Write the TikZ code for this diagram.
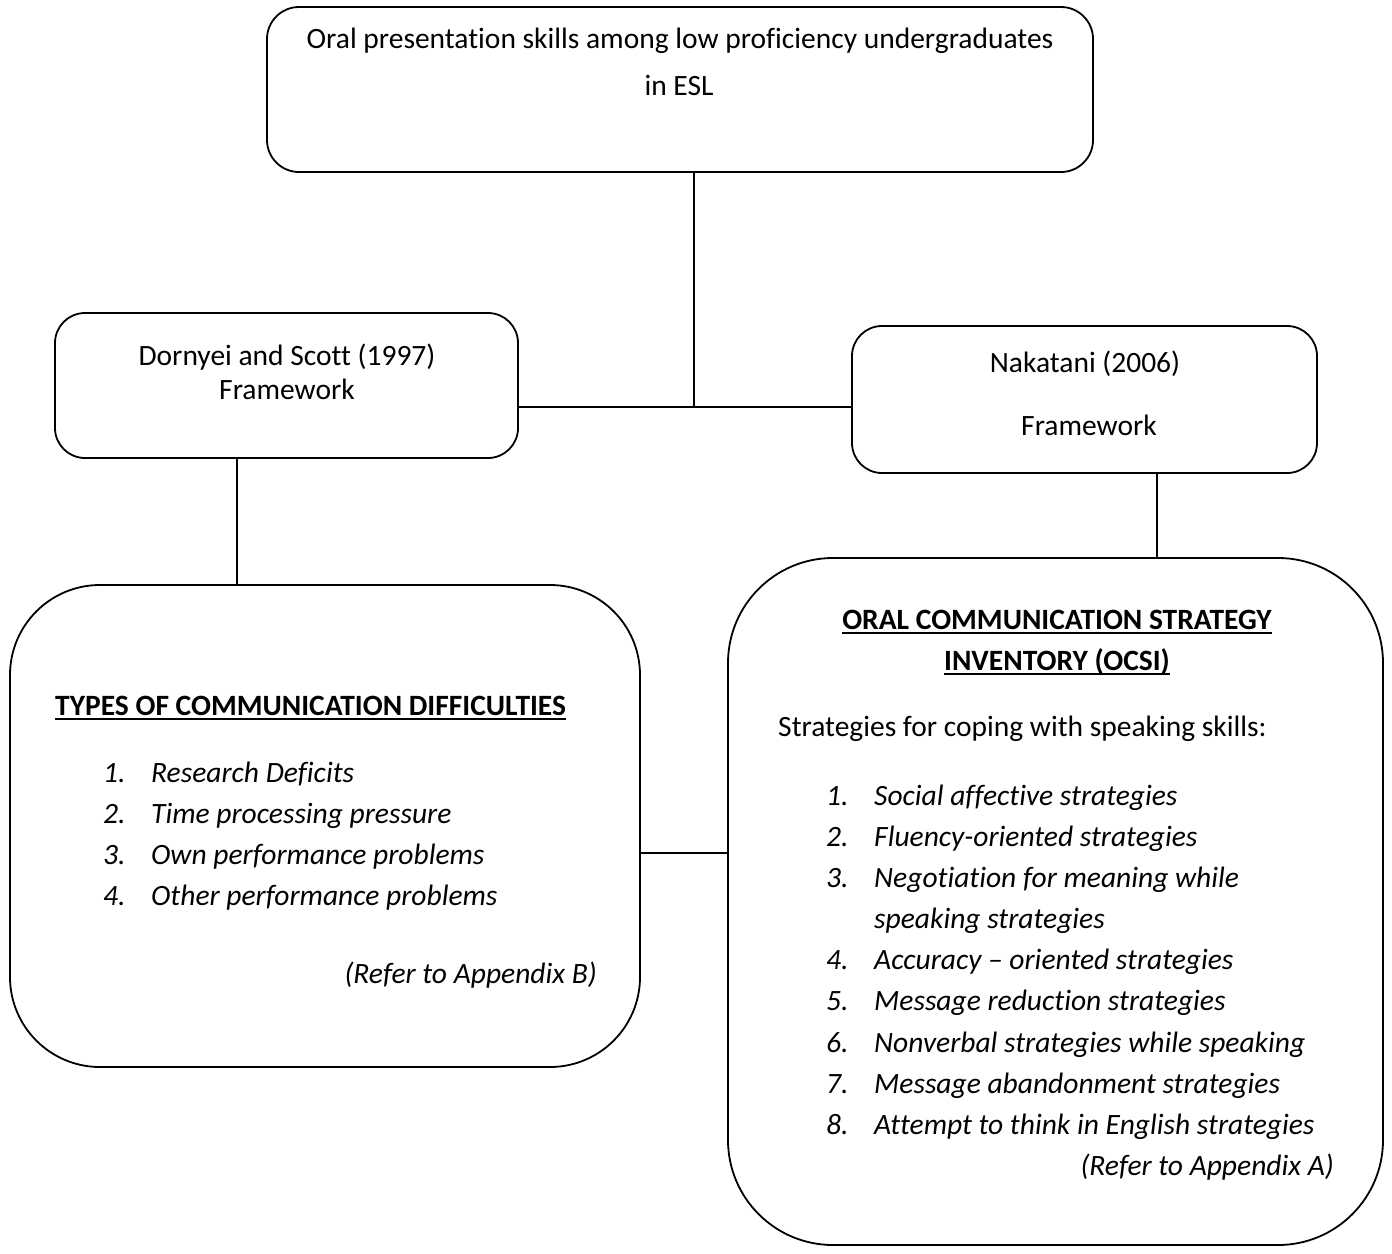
\documentclass[tikz,border=0pt]{standalone}
\usepackage{fontspec}
\setmainfont{Carlito}[Ligatures=NoCommon]
\newcommand\ulbox[1]{\setbox0\hbox{#1}\rlap{\copy0}\rule[-4.5pt]{\wd0}{1.8pt}}
\begin{document}
\begin{tikzpicture}[x=1pt,y=-1pt,
  txt/.style={inner sep=0pt,font=\fontsize{29.5}{41}\selectfont},
  itm/.style={txt,anchor=base west,font=\fontsize{29.5}{41}\selectfont\itshape},
  boxn/.style={draw,line width=1.8pt,rounded corners=#1,inner sep=0pt},
  link/.style={line width=1.8pt}]
\useasboundingbox (0,0) rectangle (1392,1253);
% boxes
\node[boxn=32,minimum width=826pt,minimum height=165pt] (top) at (680,89.5) {};
\node[boxn=30,minimum width=463pt,minimum height=145pt] (dor) at (286.5,385.5) {};
\node[boxn=30,minimum width=465pt,minimum height=147pt] (nak) at (1084.5,399.5) {};
\node[boxn=90,minimum width=630pt,minimum height=482pt] (types) at (325,826) {};
\node[boxn=105,minimum width=655pt,minimum height=687pt] (ocsi) at (1055.5,901.5) {};
% junction coordinates
\coordinate (j) at (694,407);
\coordinate (cl) at (237,0);
\coordinate (cr) at (1157,0);
\coordinate (cm) at (0,853);
% connectors
\draw[link] (top.south -| j) -- (j);
\draw[link] (j -| dor.east) -- (j -| nak.west);
\draw[link] (dor.south -| cl) -- (types.north -| cl);
\draw[link] (nak.south -| cr) -- (ocsi.north -| cr);
\draw[link] (cm -| types.east) -- (cm -| ocsi.west);
% texts
\node[txt,anchor=base] (t1) at (680,48) {Oral presentation skills among low proficiency undergraduates};
\node[txt,anchor=base] (t2) at (679,95) {in ESL};
\node[txt,anchor=base] (d1) at (287,365) {Dornyei and Scott (1997)};
\node[txt,anchor=base] (d2) at (287,399) {Framework};
\node[txt,anchor=base] (n1) at (1085,372) {Nakatani (2006)};
\node[txt,anchor=base] (n2) at (1089,435) {Framework};
\node[txt,anchor=base west,font=\fontsize{29.5}{41}\selectfont\bfseries] (th) at (55,715) {\ulbox{TYPES OF COMMUNICATION DIFFICULTIES}};
\foreach \k/\y/\s in {1/782/Research Deficits,2/823/Time processing pressure,3/864/Own performance problems,4/905/Other performance problems}{
  \node[itm] (ln\k) at (103,\y) {\k.};
  \node[itm] (lt\k) at (151,\y) {\s};
}
\node[itm,anchor=base east] (rb) at (597,983) {(Refer to Appendix B)};
\node[txt,anchor=base,font=\fontsize{29.5}{41}\selectfont\bfseries] (oh1) at (1057,629) {\ulbox{ORAL COMMUNICATION STRATEGY}};
\node[txt,anchor=base,font=\fontsize{29.5}{41}\selectfont\bfseries] (oh2) at (1057,670) {\ulbox{INVENTORY (OCSI)}};
\node[txt,anchor=base west] (st) at (778,736) {Strategies for coping with speaking skills:};
\foreach \k/\y/\s in {1/805/Social affective strategies,2/846/Fluency-oriented strategies,3/887/Negotiation for meaning while,4/969/Accuracy – oriented strategies,5/1010/Message reduction strategies,6/1052/Nonverbal strategies while speaking,7/1093/Message abandonment strategies,8/1134/Attempt to think in English strategies}{
  \node[itm] (rn\k) at (826,\y) {\k.};
  \node[itm] (rt\k) at (874,\y) {\s};
}
\node[itm] (rt3b) at (874,928) {speaking strategies};
\node[itm,anchor=base east] (ra) at (1334,1175) {(Refer to Appendix A)};
\end{tikzpicture}
\end{document}
